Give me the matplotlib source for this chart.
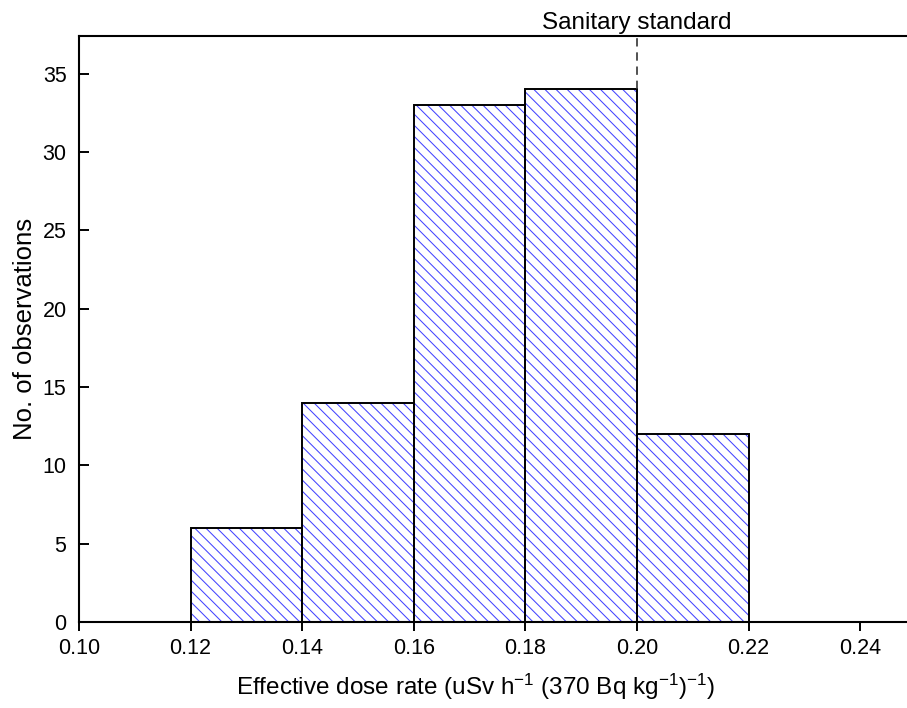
import matplotlib
matplotlib.use("Agg")
import matplotlib.pyplot as plt
import matplotlib.transforms as mtransforms
import numpy as np

# ---- data ----
bin_left = [0.12, 0.14, 0.16, 0.18, 0.20]
bin_width = 0.02
counts = [6, 14, 33, 34, 12]
x_ticks = [0.10, 0.12, 0.14, 0.16, 0.18, 0.20, 0.22, 0.24]
y_ticks = [0, 5, 10, 15, 20, 25, 30, 35]
standard_x = 0.20
standard_label = "Sanitary standard"
x_label = r"Effective dose rate (uSv h$^{-1}$ (370 Bq kg$^{-1}$)$^{-1}$)"
y_label = "No. of observations"

plt.rcParams['font.family'] = ['Liberation Sans', 'DejaVu Sans']
plt.rcParams['mathtext.fontset'] = 'custom'
plt.rcParams['mathtext.rm'] = 'Liberation Sans'
plt.rcParams['mathtext.it'] = 'Liberation Sans:italic'
plt.rcParams['mathtext.bf'] = 'Liberation Sans:bold'
plt.rcParams['mathtext.default'] = 'regular'
plt.rcParams['hatch.linewidth'] = 0.75

fig = plt.figure(figsize=(9.07, 7.08), dpi=100)
ax = fig.add_axes([79/907, 86/708, 837/907, 586/708])

hatch_blue = '#4444ff'
ax.bar(bin_left, counts, width=bin_width, align='edge', facecolor='white',
       edgecolor=hatch_blue, linewidth=0, hatch='\\\\\\', zorder=2)
ax.bar(bin_left, counts, width=bin_width, align='edge', fill=False,
       edgecolor='black', linewidth=1.4, zorder=3)

ax.set_xlim(0.10, 0.25)
ax.set_ylim(0, 37.4)

# dashed line for sanitary standard
top_val = counts[bin_left.index(0.18)]
ax.plot([standard_x, standard_x], [top_val, 37.4], linestyle=(0, (5, 3.5)),
        color='#333333', linewidth=1.2, zorder=4, clip_on=False)
trans = mtransforms.blended_transform_factory(ax.transData, ax.transAxes)
t = ax.text(standard_x, 1.0, standard_label, ha='center',
            va='baseline', fontsize=17.5)
t.set_transform(trans + mtransforms.ScaledTranslation(0, 5/72, fig.dpi_scale_trans))

ax.set_xticks(x_ticks)
ax.set_xticklabels([f"{v:.2f}" for v in x_ticks])
ax.set_yticks(y_ticks)
ax.set_yticklabels([str(v) for v in y_ticks])

ax.tick_params(axis='x', direction='out', length=6.5, width=1.4, labelsize=15.5, pad=5)
ax.tick_params(axis='y', direction='in', length=7, width=1.4, labelsize=15.5, pad=9)

for s in ['left', 'bottom', 'top']:
    ax.spines[s].set_linewidth(1.5)
ax.spines['right'].set_visible(False)

ax.set_xlabel(x_label, fontsize=17.5)
ax.set_ylabel(y_label, fontsize=18.5)
ax.xaxis.set_label_coords(0.474, -0.085)
ax.yaxis.set_label_coords(-0.050, 0.5)

fig.savefig("out.png", dpi=100)
